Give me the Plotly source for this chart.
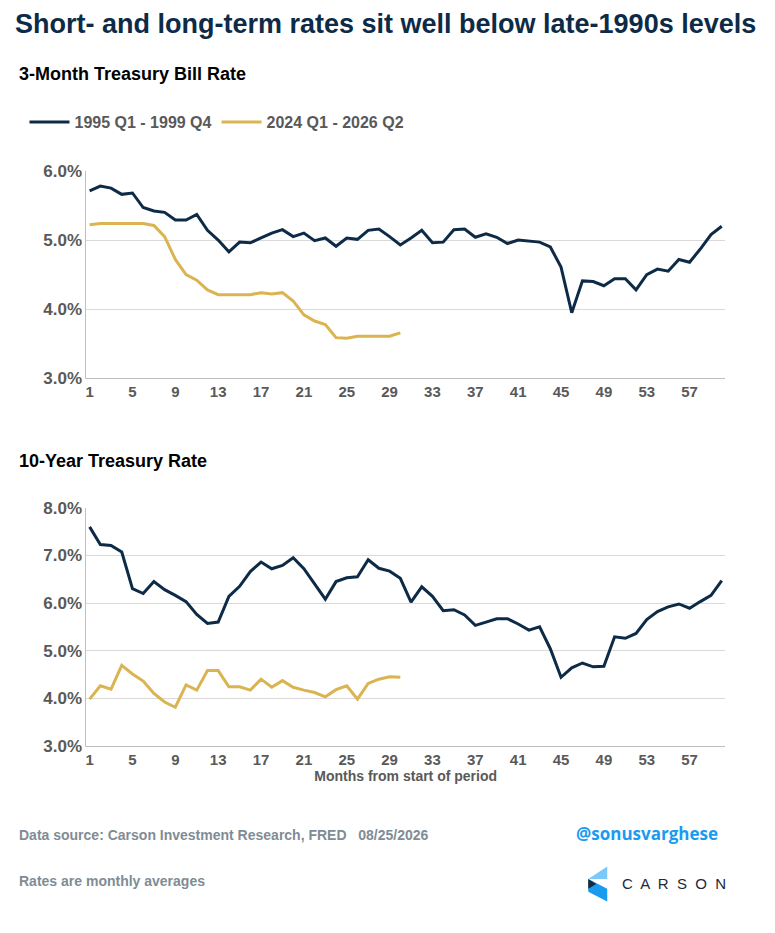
import plotly.graph_objects as go

# Data
months = list(range(1, 61))
months_recent = list(range(1, 31))

tbill_1990s = [5.71, 5.78, 5.75, 5.66, 5.68, 5.47, 5.42, 5.40, 5.29, 5.29,
               5.37, 5.14, 5.00, 4.83, 4.97, 4.96, 5.03, 5.10, 5.15, 5.05,
               5.10, 4.99, 5.03, 4.91, 5.03, 5.01, 5.14, 5.16, 5.05, 4.93,
               5.03, 5.14, 4.96, 4.97, 5.15, 5.16, 5.04, 5.09, 5.04, 4.95,
               5.00, 4.99, 4.97, 4.90, 4.61, 3.95, 4.41, 4.40, 4.34, 4.44,
               4.44, 4.28, 4.50, 4.58, 4.55, 4.72, 4.68, 4.87, 5.08, 5.20]
tbill_2020s = [5.22, 5.24, 5.24, 5.24, 5.25, 5.24, 5.21, 5.05, 4.72, 4.50,
               4.42, 4.28, 4.21, 4.21, 4.20, 4.21, 4.24, 4.22, 4.24, 4.12,
               3.92, 3.83, 3.78, 3.59, 3.58, 3.61, 3.61, 3.61, 3.61, 3.66]

tsy10_1990s = [7.60, 7.23, 7.21, 7.07, 6.30, 6.20, 6.45, 6.28, 6.16, 6.03,
               5.76, 5.57, 5.60, 6.14, 6.35, 6.66, 6.86, 6.72, 6.79, 6.95,
               6.72, 6.40, 6.08, 6.45, 6.53, 6.55, 6.91, 6.73, 6.67, 6.52,
               6.02, 6.34, 6.14, 5.84, 5.86, 5.75, 5.53, 5.60, 5.67, 5.67,
               5.56, 5.43, 5.50, 5.04, 4.44, 4.64, 4.74, 4.66, 4.67, 5.29,
               5.26, 5.36, 5.65, 5.82, 5.92, 5.98, 5.89, 6.03, 6.16, 6.47]
tsy10_2020s = [3.98, 4.26, 4.19, 4.69, 4.51, 4.36, 4.10, 3.92, 3.81, 4.28,
               4.17, 4.58, 4.58, 4.24, 4.24, 4.17, 4.40, 4.23, 4.37, 4.23,
               4.17, 4.12, 4.03, 4.18, 4.26, 3.98, 4.31, 4.40, 4.45, 4.44]

x_ticks = list(range(1, 60, 4))

NAVY = "#0d2b47"
GOLD = "#d9b450"
GRAY = "#595959"
FONT = "Liberation Sans, Arial, sans-serif"

fig = go.Figure()
fig.add_trace(go.Scatter(x=months, y=tbill_1990s, mode="lines", name="1995 Q1 - 1999 Q4",
                         line=dict(color=NAVY, width=3), xaxis="x", yaxis="y"))
fig.add_trace(go.Scatter(x=months_recent, y=tbill_2020s, mode="lines", name="2024 Q1 - 2026 Q2",
                         line=dict(color=GOLD, width=3), xaxis="x", yaxis="y"))
fig.add_trace(go.Scatter(x=months, y=tsy10_1990s, mode="lines", showlegend=False,
                         line=dict(color=NAVY, width=3), xaxis="x2", yaxis="y2"))
fig.add_trace(go.Scatter(x=months_recent, y=tsy10_2020s, mode="lines", showlegend=False,
                         line=dict(color=GOLD, width=3), xaxis="x2", yaxis="y2"))

xax = dict(range=[0.7, 60.3], tickvals=x_ticks, showgrid=False, zeroline=False,
           showline=True, linecolor="#bfbfbf", linewidth=1,
           tickfont=dict(size=15, color=GRAY, family=FONT, weight="bold"), domain=[0.10, 0.925])
yax = dict(showgrid=True, gridcolor="#d9d9d9", zeroline=False, showline=True,
           linecolor="#bfbfbf", ticksuffix="%", tickformat=".1f",
           tickfont=dict(size=17, color=GRAY, family=FONT, weight="bold"))

fig.update_layout(
    width=775, height=933, margin=dict(l=0, r=0, t=0, b=0),
    paper_bgcolor="white", plot_bgcolor="white",
    font=dict(family=FONT),
    xaxis=dict(xax, anchor="y"),
    yaxis=dict(yax, range=[3, 6], dtick=1, domain=[0.6045, 0.8317], anchor="x"),
    xaxis2=dict(xax, anchor="y2",
                title=dict(text="<b>Months from start of period</b>", standoff=4,
                           font=dict(size=14, color=GRAY))),
    yaxis2=dict(yax, range=[3, 8], dtick=1, domain=[0.2026, 0.463], anchor="x2"),
    legend=dict(orientation="h", x=0.02, y=0.885, yanchor="middle", xanchor="left",
                font=dict(size=16, color=GRAY, weight="bold"), itemwidth=40, tracegroupgap=0),
)

def txt(s, x, y, size, color, xanchor="left"):
    fig.add_annotation(text=s, x=x, y=y, xref="paper", yref="paper", showarrow=False,
                       xanchor=xanchor, yanchor="middle", font=dict(size=size, color=color))

txt("<b>Short- and long-term rates sit well below late-1990s levels</b>", 0.005, 1 - 7 / 933, 27, NAVY)
txt("<b>3-Month Treasury Bill Rate</b>", 0.01, 1 - 58 / 933, 18, "black")
txt("<b>10-Year Treasury Rate</b>", 0.01, 1 - 453 / 933, 18, "black")
txt("<b>Data source: Carson Investment Research, FRED   08/25/2026</b>", 0.01, 1 - 835 / 933, 14, "#7f8c95")
txt("<b>Rates are monthly averages</b>", 0.01, 1 - 882 / 933, 14, "#7f8c95")
fig.add_annotation(text="<b>@sonusvarghese</b>", x=0.73, y=1 - 833 / 933, xref="paper", yref="paper",
                   showarrow=False, xanchor="left", yanchor="middle",
                   font=dict(size=17, color="#1a9bf0", family="Open Sans, sans-serif"))
txt("C  A  R  S  O  N", 0.789, 1 - 885 / 933, 15, "#1b2a3a")

# Carson logo mark (pixel coordinates converted to paper)
def px(x, y):
    return f"{x / 775:.4f},{1 - y / 933:.4f}"

fig.add_shape(type="path", xref="paper", yref="paper", line_width=0, fillcolor="#7cc8f8",
              path=f"M {px(599, 867)} L {px(599, 880)} L {px(580, 880)} Z")
fig.add_shape(type="path", xref="paper", yref="paper", line_width=0, fillcolor="#1a9bf0",
              path=f"M {px(580, 880)} L {px(599, 890)} L {px(599, 903)} L {px(580, 893)} Z")
fig.add_shape(type="path", xref="paper", yref="paper", line_width=0, fillcolor="#1b2a3a",
              path=f"M {px(580, 880)} L {px(588, 885)} L {px(580, 890)} Z")

fig.write_html("out.html")
